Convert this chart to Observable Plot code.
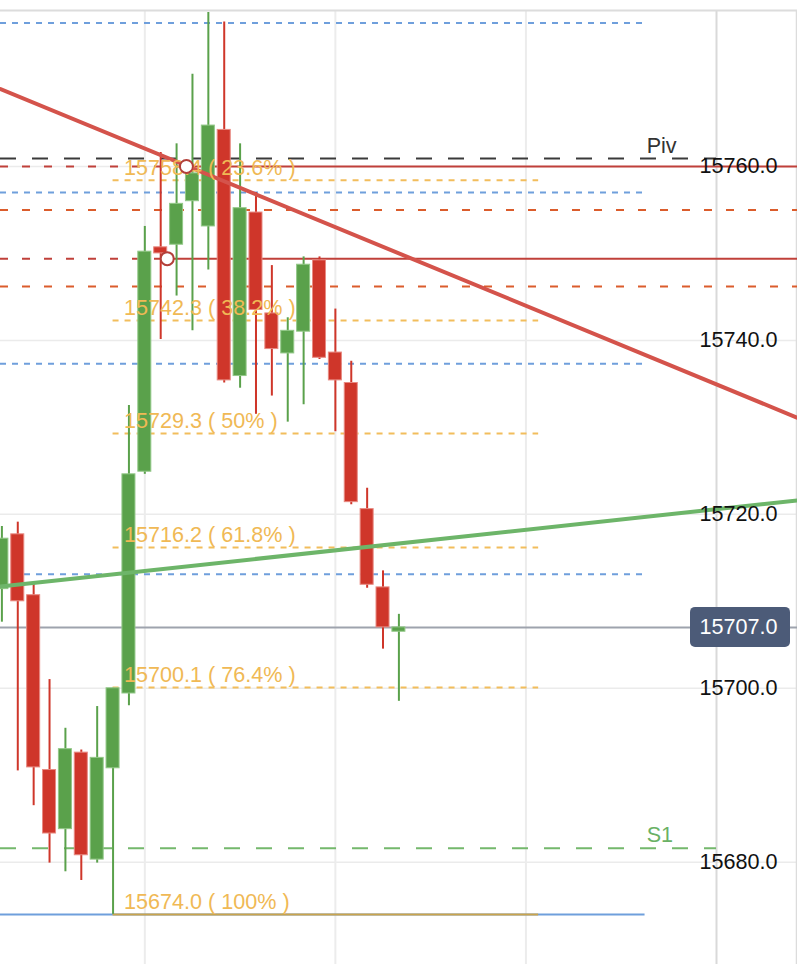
<!DOCTYPE html>
<html><head><meta charset="utf-8">
<script src="https://cdn.jsdelivr.net/npm/d3@7"></script>
<script src="https://cdn.jsdelivr.net/npm/@observablehq/plot@0.6"></script>
<style>html,body{margin:0;padding:0;background:#fff;}</style>
</head><body><div id="chart"></div>
<script>
// ---- candle data (index, OHLC) ----
const candleIndex = [0,1,2,3,4,5,6,7,8,9,10,11,12,13,14,15,16,17,18,19,20,21,22,23,24,25];
const opens  = [15711.4,15717.7,15710.7,15690.6,15683.8,15692.6,15680.3,15690.8,15699.4,15724.9,15750.7,15751.0,15756.0,15753.1,15764.2,15735.9,15754.7,15743.1,15738.5,15741.0,15749.2,15738.6,15735.1,15720.6,15711.6,15706.5];
const highs  = [15718.6,15719.1,15712.0,15701.0,15695.4,15692.9,15697.9,15700.0,15732.5,15753.1,15761.6,15762.6,15770.6,15777.7,15776.6,15762.6,15757.0,15748.6,15742.6,15749.6,15749.6,15743.6,15737.6,15723.0,15713.5,15708.5];
const lows   = [15707.6,15690.5,15686.5,15679.9,15678.9,15677.9,15679.9,15674.0,15698.0,15724.6,15740.1,15745.1,15741.1,15748.1,15735.1,15734.5,15731.5,15733.6,15730.6,15732.6,15737.8,15729.5,15721.1,15711.5,15704.5,15698.5];
const closes = [15717.2,15710.0,15690.9,15683.3,15693.0,15680.8,15692.0,15700.0,15724.6,15750.2,15750.0,15755.7,15759.2,15764.7,15735.4,15755.2,15743.5,15739.0,15741.1,15748.7,15738.0,15735.4,15721.4,15711.9,15707.0,15707.0];

// ---- axis ticks / grid ----
const yTicks = [15680, 15700, 15720, 15740, 15760];
const xGrid = [9, 21, 33];
const xBorder = [45];

// ---- Fibonacci retracement ----
const fibValues = [15758.4, 15742.3, 15729.3, 15716.2, 15700.1, 15674.0];
const fibPcts = ["23.6%", "38.2%", "50%", "61.8%", "76.4%", "100%"];
const fibStart = 7, fibEnd = 33.8;

// ---- other levels ----
const blueDashed = [15776.5, 15757.0, 15737.3, 15713.1];
const blueSolid = [15674.0];
const blueEnd = 40.5;
const orangeDashed = [15755.0, 15746.2];
const rayValues = [15760.0, 15749.4];
const rayStarts = [11.62, 10.41];
const pivotNames = ["Piv", "S1"];
const pivotValues = [15760.9, 15681.6];
const pivotEnd = 45;
const pivotLabelX = 40.6;
const lastPrice = 15707.0;

// ---- trend lines ----
const redTrendX = [-0.088, 50.1], redTrendY = [15768.9, 15731.1];
const greenTrendX = [-0.088, 50.1], greenTrendY = [15711.7, 15721.6];

const xDomain = [-0.088, 50.1];
const yDomain = [15668.24, 15777.93];

const GREEN = "#5aa14b", RED = "#cf362a";
const candles = candleIndex.map((i, k) => ({i, open: opens[k], high: highs[k], low: lows[k], close: closes[k]}));
const up = d => d.close >= d.open;
const fib = fibValues.map((v, k) => ({v, pct: fibPcts[k]}));
const rays = rayValues.map((v, k) => ({v, start: rayStarts[k]}));
const pivots = pivotValues.map((v, k) => ({v, name: pivotNames[k]}));
const redTrend = redTrendX.map((x, k) => ({x, y: redTrendY[k]}));
const greenTrend = greenTrendX.map((x, k) => ({x, y: greenTrendY[k]}));
const FS = 21.6;

const chart = Plot.plot({
  width: 797, height: 964,
  marginTop: 10, marginBottom: 0, marginLeft: 0, marginRight: 0,
  x: {domain: xDomain, axis: null},
  y: {domain: yDomain, axis: null},
  color: {type: "identity"},
  style: {fontFamily: "'Liberation Sans', Arial, Helvetica, sans-serif", background: "#fff"},
  marks: [
    Plot.ruleY(yTicks, {stroke: "#ebebeb", strokeWidth: 1.5}),
    Plot.ruleX(xGrid, {stroke: "#ececec", strokeWidth: 2}),
    Plot.ruleX(xBorder, {stroke: "#d9d9d9", strokeWidth: 2}),
    Plot.ruleY([yDomain[1]], {stroke: "#dcdcdc", strokeWidth: 2}),
    Plot.ruleX([xDomain[1]], {stroke: "#dcdcdc", strokeWidth: 1.5, dx: -1}),

    // blue band lines
    Plot.ruleY(blueDashed, {x1: () => xDomain[0], x2: () => blueEnd, stroke: "#6f9fdc", strokeWidth: 2, strokeDasharray: "6,6"}),
    Plot.ruleY(blueSolid, {x1: () => xDomain[0], x2: () => blueEnd, stroke: "#6f9fdc", strokeWidth: 2}),
    // orange dashed
    Plot.ruleY(orangeDashed, {stroke: "#db5c2c", strokeWidth: 2, strokeDasharray: "8,14"}),
    // pivots
    Plot.ruleY(pivots, {y: "v", x1: () => xDomain[0], x2: () => pivotEnd, stroke: d => d.name === "Piv" ? "#3a3a3a" : "#74b86c", strokeWidth: 2, strokeDasharray: "16,16"}),
    // red rays
    Plot.ruleY(rays, {y: "v", x1: () => xDomain[0], x2: "start", stroke: "#c0403a", strokeWidth: 2, strokeDasharray: "8,14"}),
    Plot.ruleY(rays, {y: "v", x1: "start", x2: () => xDomain[1], stroke: "#c0403a", strokeWidth: 2}),
    // fib lines
    Plot.ruleY(fib.filter(d => d.pct !== "100%"), {y: "v", x1: () => fibStart, x2: () => fibEnd, stroke: "#f2bd5c", strokeWidth: 2, strokeDasharray: "6,6"}),
    Plot.ruleY(fib.filter(d => d.pct === "100%"), {y: "v", x1: () => fibStart, x2: () => fibEnd, stroke: "#c9a44e", strokeWidth: 2}),
    // last price line
    Plot.ruleY([lastPrice], {stroke: "#9ea3ad", strokeWidth: 2}),

    // candles
    Plot.ruleX(candles, {x: "i", y1: "low", y2: "high", stroke: d => up(d) ? GREEN : RED, strokeWidth: 2}),
    Plot.rect(candles, {x1: d => d.i - 0.41, x2: d => d.i + 0.41, y1: "open", y2: "close",
      fill: d => up(d) ? GREEN : RED, stroke: d => up(d) ? "#93c888" : "#e88a82", strokeWidth: 1}),

    // trend lines
    Plot.line(redTrend, {x: "x", y: "y", stroke: "#d4534b", strokeWidth: 4}),
    Plot.line(greenTrend, {x: "x", y: "y", stroke: "#6db569", strokeWidth: 4}),

    // fib labels
    Plot.text(fib, {x: () => fibStart, y: "v", text: d => `${d.v.toFixed(1)} ( ${d.pct} )`, textAnchor: "start", lineAnchor: "bottom", dx: 11, dy: -5, fill: "#f0b955", fontSize: FS}),
    // pivot labels
    Plot.text(pivots, {x: () => pivotLabelX, y: "v", text: "name", textAnchor: "start", lineAnchor: "bottom", dy: -6, fill: d => d.name === "Piv" ? "#333" : "#6ab165", fontSize: FS}),
    // ray circles
    Plot.dot(rays, {x: "start", y: "v", r: 6.5, fill: "white", stroke: "#b3403a", strokeWidth: 2}),
    // y labels
    Plot.text(yTicks, {y: d => d, text: d => d.toFixed(1), frameAnchor: "right", textAnchor: "end", dx: -20, fill: "#111", fontSize: FS}),
    // last price label
    Plot.text([lastPrice], {y: d => d, text: d => d.toFixed(1), frameAnchor: "right", textAnchor: "end", dx: -20, fill: "#fff", fontSize: FS})
  ]
});

document.getElementById("chart").appendChild(chart);
// price tag box behind the last-price label, positioned via the plot's y scale
const yPx = chart.scale("y").apply(lastPrice);
const lastG = chart.lastElementChild;
d3.select(chart).insert("rect", () => lastG)
  .attr("x", 690).attr("y", yPx - 20).attr("width", 100).attr("height", 40)
  .attr("rx", 5).attr("fill", "#4c5b78");
</script>
</body></html>
